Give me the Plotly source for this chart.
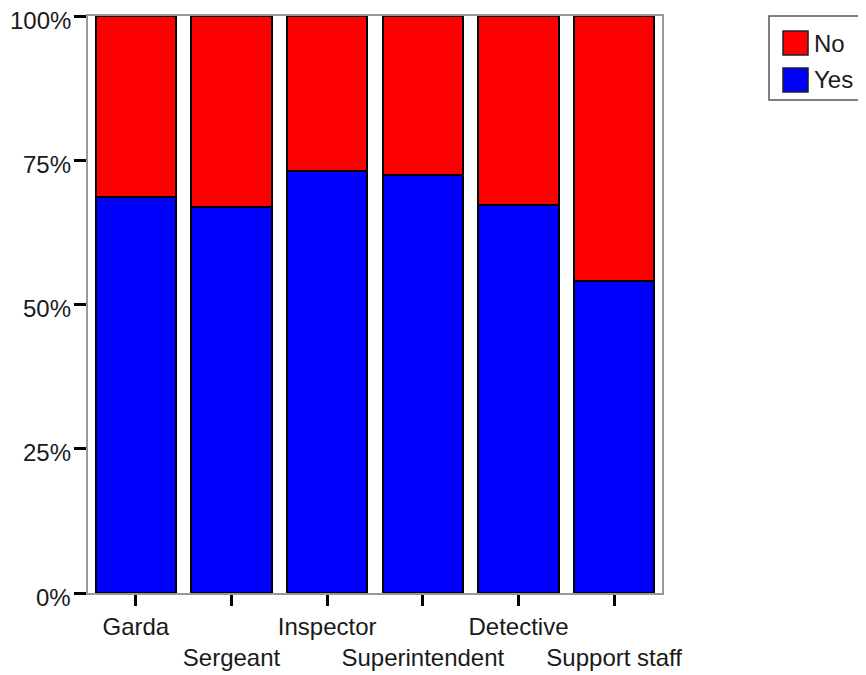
import plotly.graph_objects as go

ranks = ["Garda", "Sergeant", "Inspector", "Superintendent", "Detective", "Support staff"]
yes_pct = [68.6, 66.9, 73.2, 72.5, 67.2, 54.0]
no_pct = [31.4, 33.1, 26.8, 27.5, 32.8, 46.0]
tick_pct = [0, 25, 50, 75, 100]
tick_lbl = ["0%", "25%", "50%", "75%", "100%"]

YES_COLOR = "#0000FF"
NO_COLOR = "#FF0000"
FONT = "Liberation Sans, Arial, sans-serif"
TXT = dict(family=FONT, size=24, color="#1a1a1a")

# stagger every second category label onto a second row
tick_text = [r if i % 2 == 0 else "<br>" + r for i, r in enumerate(ranks)]

fig = go.Figure()
fig.add_trace(go.Bar(
    x=ranks, y=yes_pct, name="Yes", showlegend=False,
    marker=dict(color=YES_COLOR, line=dict(color="#000000", width=2)),
))
fig.add_trace(go.Bar(
    x=ranks, y=no_pct, name="No", showlegend=False,
    marker=dict(color=NO_COLOR, line=dict(color="#000000", width=2)),
))

# y tick labels as annotations: sit a few px below their ticks like the original
for v, lbl in zip(tick_pct, tick_lbl):
    fig.add_annotation(text=lbl, xref="paper", yref="y", x=0, y=v,
                       xanchor="right", yanchor="middle", xshift=-15, yshift=-4,
                       showarrow=False, font=TXT)

# hand-drawn legend box (big square swatches like the original)
fig.add_shape(type="rect", xref="paper", yref="paper",
              x0=1.1864, x1=1.38, y0=0.8544, y1=1.0,
              line=dict(color="#555555", width=1.5), fillcolor="white")
for name, color, y0, y1, ty in [("No", NO_COLOR, 0.9324, 0.974, 0.9532),
                                ("Yes", YES_COLOR, 0.8683, 0.9099, 0.8891)]:
    fig.add_shape(type="rect", xref="paper", yref="paper",
                  x0=1.2108, x1=1.2544, y0=y0, y1=y1,
                  line=dict(color="#222222", width=1.5), fillcolor=color)
    fig.add_annotation(text=name, xref="paper", yref="paper", x=1.262, y=ty,
                       xanchor="left", yanchor="middle", showarrow=False,
                       font=TXT)

fig.update_layout(
    width=866, height=675,
    barmode="stack",
    bargap=0.16,
    plot_bgcolor="white",
    paper_bgcolor="white",
    showlegend=False,
    font=TXT,
    margin=dict(l=80, r=212, t=8, b=90, autoexpand=False),
    xaxis=dict(
        tickvals=ranks, ticktext=tick_text, tickangle=0, tickfont=TXT,
        ticks="outside", ticklen=11, tickwidth=3, tickcolor="#000000",
        showline=True, linecolor="#999999", linewidth=2, mirror=True,
        showgrid=False, automargin=False, ticklabeloverflow="allow",
    ),
    yaxis=dict(
        range=[0, 100],
        tickvals=tick_pct, showticklabels=False,
        ticks="outside", ticklen=12, tickwidth=3, tickcolor="#000000",
        showline=True, linecolor="#999999", linewidth=2, mirror=True,
        showgrid=False, zeroline=False, automargin=False,
    ),
)

fig.write_html("out.html")
